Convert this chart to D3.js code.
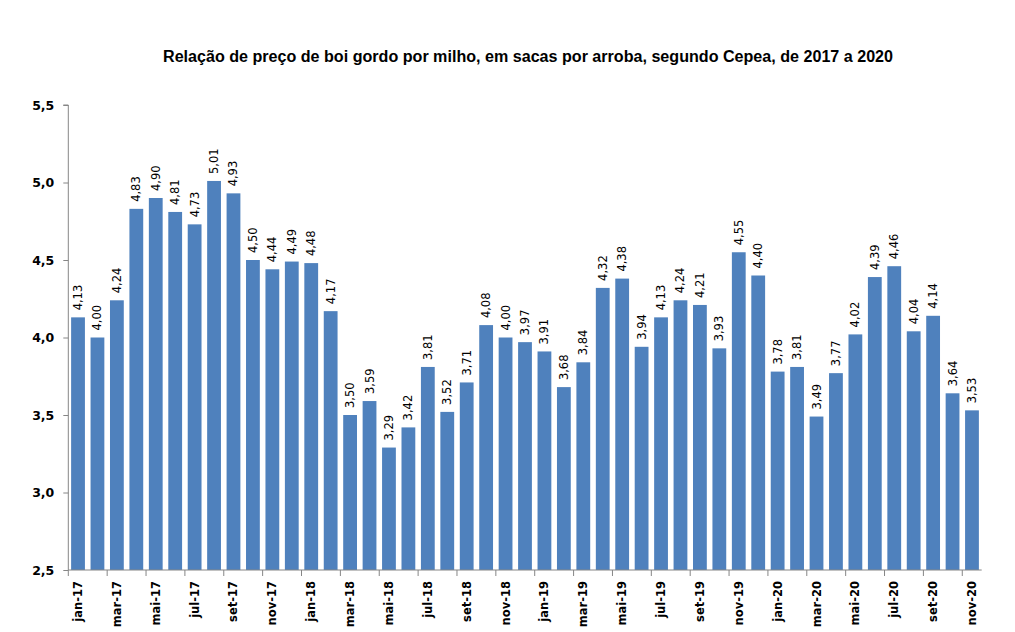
<!DOCTYPE html>
<html><head><meta charset="utf-8">
<script src="https://cdn.jsdelivr.net/npm/d3@7"></script>
<style>body{margin:0;background:#fff}</style>
</head><body>
<svg id="c" width="1015" height="632"></svg>
<script>
const months = ["jan","fev","mar","abr","mai","jun","jul","ago","set","out","nov","dez"];
const years = ["17","18","19","20"];
const categories = [];
years.forEach(y => months.forEach(m => categories.push(m + "-" + y)));
categories.splice(47);
const values = [4.13,4.00,4.24,4.83,4.90,4.81,4.73,5.01,4.93,4.50,4.44,4.49,
                4.48,4.17,3.50,3.59,3.29,3.42,3.81,3.52,3.71,4.08,4.00,3.97,
                3.91,3.68,3.84,4.32,4.38,3.94,4.13,4.24,4.21,3.93,4.55,4.40,
                3.78,3.81,3.49,3.77,4.02,4.39,4.46,4.04,4.14,3.64,3.53];
const yTicks = [2.5,3.0,3.5,4.0,4.5,5.0,5.5];
const title = "Relação de preço de boi gordo por milho, em sacas por arroba, segundo Cepea, de 2017 a 2020";

const svg = d3.select("#c");
const L = 68.3, R = 981.7, T = 105, B = 570;
const x = d3.scaleBand().domain(categories).range([L, R]).paddingInner(0.29).paddingOuter(0.145);
const y = d3.scaleLinear().domain([2.5, 5.5]).range([B, T]);
const fmt = v => v.toFixed(2).replace(".", ",");
const fmt1 = v => v.toFixed(1).replace(".", ",");
const step = (R - L) / categories.length;

svg.append("text").attr("x", 528).attr("y", 62).attr("text-anchor", "middle")
  .attr("font-family", "Liberation Sans, Arial, sans-serif").attr("font-weight", "bold")
  .attr("font-size", 16).attr("textLength", 730).attr("lengthAdjust", "spacingAndGlyphs")
  .text(title);

svg.selectAll("rect.bar").data(values).join("rect").attr("class", "bar")
  .attr("x", (d, i) => x(categories[i])).attr("width", x.bandwidth())
  .attr("y", d => y(d)).attr("height", d => B - y(d)).attr("fill", "#4F81BD");

svg.selectAll("text.val").data(values).join("text").attr("class", "val")
  .attr("transform", (d, i) => `translate(${x(categories[i]) + x.bandwidth() / 2},${y(d) - 7}) rotate(-90)`)
  .attr("dominant-baseline", "central").attr("text-anchor", "start")
  .attr("font-family", "DejaVu Sans, Verdana, sans-serif").attr("font-size", 11.5).attr("fill", "#000")
  .text(d => fmt(d));

// y axis
const yAxis = d3.axisLeft(y).tickValues(yTicks).tickSize(5).tickFormat(fmt1);
const gy = svg.append("g").attr("transform", `translate(${L},0)`).call(yAxis);
gy.select(".domain").attr("stroke", "#868686").attr("d", `M-5,${T}H0V${B}`);
gy.selectAll(".tick line").attr("stroke", "#868686");
gy.selectAll(".tick text").attr("x", -14).attr("font-family", "DejaVu Sans, Verdana, sans-serif")
  .attr("font-weight", "bold").attr("font-size", 12.5).attr("fill", "#000");

// x axis
const gx = svg.append("g").attr("transform", `translate(0,${B})`);
gx.append("line").attr("x1", L).attr("x2", R).attr("y1", 0).attr("y2", 0).attr("stroke", "#868686");
const tickIdx = d3.range(0, categories.length + 1, 2);
gx.selectAll("line.tk").data(tickIdx).join("line").attr("class", "tk")
  .attr("x1", i => L + i * step).attr("x2", i => L + i * step).attr("y1", 0).attr("y2", 6)
  .attr("stroke", "#868686");
const labelCats = categories.filter((c, i) => i % 2 === 0);
gx.selectAll("text").data(labelCats).join("text")
  .attr("transform", c => `translate(${x(c) + x.bandwidth() / 2},11) rotate(-90)`)
  .attr("text-anchor", "end").attr("dominant-baseline", "central")
  .attr("font-family", "DejaVu Sans, Verdana, sans-serif").attr("font-weight", "bold")
  .attr("font-size", 11.5).attr("fill", "#000").text(c => c);
</script>
</body></html>
